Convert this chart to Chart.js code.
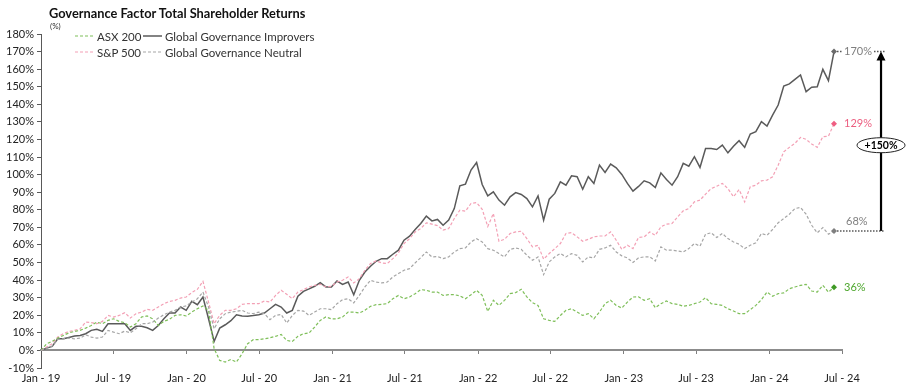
<!DOCTYPE html>
<html>
<head>
<meta charset="utf-8">
<script src="https://cdn.jsdelivr.net/npm/chart.js@4.4.1/dist/chart.umd.min.js"></script>
<style>
  body { margin: 0; background: #fff; font-family: Lato, "Open Sans", sans-serif; }
  #wrap { position: relative; width: 911px; height: 386px; }
  #title { position: absolute; left: 49px; top: 5px; font-weight: bold; font-size: 12.8px; color: #111; }
  #unit { position: absolute; left: 50px; top: 21px; font-size: 8px; color: #333; }
  .lg { position: absolute; font-size: 11.5px; color: #333; display: flex; align-items: center; height: 14px; white-space: nowrap; }
  .lg svg { margin-right: 3px; }
</style>
</head>
<body>
<div id="wrap">
  <canvas id="chart" width="911" height="386"></canvas>
  <div id="title">Governance Factor Total Shareholder Returns</div>
  <div id="unit">(%)</div>
  <div id="legend"></div>
</div>
<script>
// 2週間ごとのデータ (2019/1/1 起点)
const startDate = Date.UTC(2019, 0, 1);
const stepDays = 14;

const improvers = [0, 1.3, 2.3, 6.6, 6.6, 7.4, 8.2, 8.5, 9.5, 11.4,
  12, 10.8, 15.2, 15.2, 15.2, 15.2, 11.4, 13.7, 13.7, 12.9,
  11.4, 14.2, 18, 21.3, 21.3, 24.7, 22.8, 27.9, 26, 30.4,
  18, 5.1, 12.7, 14.6, 16.9, 20.3, 19.6, 19.4, 19.8, 20.3,
  21.3, 23.7, 26.2, 24.7, 21.3, 22.8, 30.8, 33.6, 35, 36.5,
  38.6, 36.1, 36.1, 39.5, 37.6, 38.9, 31.7, 39.9, 44.6, 47.9,
  50.7, 52.2, 52.2, 54.7, 57, 62.7, 65, 68.8, 72.2, 76.4,
  73.7, 74.5, 71.2, 74.1, 80.7, 93.6, 94.6, 102.6, 106.9, 94.4,
  87.9, 90.2, 85.5, 82.6, 87.4, 89.8, 88.7, 86.4, 81.7, 87.9,
  74.1, 86, 89.3, 95.9, 94, 99.3, 98.8, 91.7, 98.8, 95,
  105.4, 101.2, 106, 103.9, 100.1, 95, 90.6, 93.3, 96.5, 95.3,
  92.7, 101, 97.2, 94, 98.8, 106.4, 104.8, 110.2, 104.1, 114.9,
  114.9, 114.3, 116.8, 112.4, 116.2, 119.3, 115.5, 123.1, 124.4, 130.1,
  127.6, 133.9, 139.6, 150.4, 151.6, 154.2, 156.7, 147.2, 149.7, 150,
  159.9, 153.5, 170];

const sp500 = [0, 1.9, 3.8, 7.6, 9.5, 10.8, 11.4, 12.3, 16.1, 15.8,
  15.2, 16.5, 19.9, 19, 19.9, 21.5, 18.4, 20.9, 21.8, 23.4,
  22.8, 24.7, 26.6, 27.9, 28.5, 29.8, 30.4, 32.9, 34.8, 39.3,
  27.5, 15.2, 20, 22.8, 22.8, 23.7, 26.2, 26.6, 26.6, 26.6,
  28.1, 27.5, 31.3, 34.2, 31.9, 29.4, 33.2, 34.6, 36.1, 37,
  37.6, 36.1, 36.5, 38.9, 39.9, 41.8, 38.4, 40.8, 45.6, 49.4,
  50.9, 49.8, 49.4, 52.2, 55.5, 60.8, 63.6, 67.4, 69.3, 72.6,
  71.8, 71, 68.4, 69.3, 75, 79.8, 79.2, 83.6, 84.1, 80.3,
  70.5, 77.9, 62.1, 63.2, 66.5, 67.4, 67.8, 63.6, 58.9, 59.8,
  51.9, 55.1, 57.9, 60.8, 66.5, 67, 64.6, 62.1, 63.2, 64.6,
  65.1, 65.1, 67.4, 62.7, 57.5, 59.8, 57.9, 64.3, 64.6, 67.4,
  65.5, 70.3, 71.8, 72.2, 76, 79.4, 80.7, 84.5, 85.5, 88.9,
  92.1, 93.4, 95, 92.1, 87.4, 91.5, 84.5, 93.1, 94, 96.5,
  96.9, 98.8, 105.4, 113, 115.5, 117.8, 121.2, 120.1, 117.4, 115.5,
  121.6, 121.9, 129];

const neutral = [0, 1.3, 2.5, 6.3, 6.6, 7, 6.6, 7, 8.9, 7.6,
  7, 7.6, 11.4, 10.4, 9.5, 11, 10, 12.3, 15.2, 15.2,
  16.1, 18.4, 20.3, 21.8, 22.8, 24.7, 25.3, 27.5, 29.4, 33.2,
  24.7, 12.3, 18, 20.9, 21.8, 22.2, 22.8, 21.3, 20.9, 21.8,
  20.9, 17.5, 19.9, 20.5, 15.6, 19.9, 22.8, 22.4, 19.9, 21.8,
  23.7, 23.7, 23.2, 26.6, 28.9, 29.4, 27, 31.3, 36.1, 39.9,
  38.9, 38.4, 38.9, 41.8, 43.7, 45.6, 46.5, 49.8, 52.8, 56,
  53.2, 53.4, 52.2, 53.2, 56, 57.9, 58.3, 61.7, 63.6, 61.7,
  57.9, 57, 55.1, 53.2, 57.5, 58.3, 57.5, 54.1, 51.3, 53.2,
  43.1, 50.3, 53.2, 55.1, 53.2, 55.1, 54.1, 50.3, 53.2, 52.6,
  57.5, 58.3, 59.8, 56, 53.8, 52.6, 50, 52.7, 53.2, 53.2,
  50.9, 58.9, 57, 57, 56.6, 56, 57.9, 60.8, 59.3, 66.1,
  66.9, 64.2, 66.5, 63.6, 61.7, 60.4, 57.9, 59.8, 61.2, 66.5,
  65.5, 68.8, 72.6, 75, 77.5, 80.7, 81.3, 77.5, 71.2, 66.9,
  69.9, 66.1, 68];

const asx200 = [0, 3.8, 5.1, 7, 8.5, 10, 10.8, 11.4, 12.7, 14.2,
  16.1, 15.2, 17.1, 18, 16.5, 15.8, 13.3, 15.2, 19, 19.6,
  18, 14.2, 16.5, 17.7, 19.9, 20.3, 19.6, 21.8, 23.7, 25.3,
  22.8, 1, -5.7, -6.6, -5.1, -6.6, -1.9, 3.8, 6.1, 6.1,
  6.6, 7.2, 8, 9.1, 5.7, 5.1, 8, 9.5, 9.9, 13.3,
  17.1, 19, 18, 18, 19, 21.8, 21.8, 21.3, 22.8, 25.1,
  26, 26.2, 26.6, 29.4, 31.3, 29.4, 30.4, 32.3, 34.6, 34.2,
  33.2, 33.2, 31.3, 31.7, 31.7, 31, 29.4, 31.7, 34.2, 31.3,
  22.2, 28.5, 25.6, 28.5, 32.3, 32.9, 34.8, 30.4, 27.2, 25.6,
  18, 17.1, 16.5, 19.9, 22.8, 23.7, 21.8, 19.9, 20.9, 18,
  21.8, 26.6, 28.5, 25.6, 24.1, 27.5, 30.4, 30.5, 28.5, 29.4,
  24.3, 26.6, 28.1, 26.6, 26.2, 25.1, 25.6, 26.6, 27.5, 30,
  26.6, 26.2, 25.6, 23.7, 22.4, 20.9, 20.9, 23.2, 25.6, 28.9,
  33.2, 30.8, 32.3, 32.7, 35.1, 36.1, 37, 37.6, 33.8, 33.2,
  37, 33.2, 36];

const tickLabels = ['Jan - 19', 'Jul - 19', 'Jan - 20', 'Jul - 20', 'Jan - 21', 'Jul - 21',
  'Jan - 22', 'Jul - 22', 'Jan - 23', 'Jul - 23', 'Jan - 24', 'Jul - 24'];
const tickDates = [[2019, 0], [2019, 6], [2020, 0], [2020, 6], [2021, 0], [2021, 6],
  [2022, 0], [2022, 6], [2023, 0], [2023, 6], [2024, 0], [2024, 6]];
const spreadText = '+150%';

const DAY = 86400000;
const tickDays = tickDates.map(d => (Date.UTC(d[0], d[1], 1) - startDate) / DAY);
const toPoints = arr => arr.map((v, i) => ({ x: i * stepDays, y: v }));

const series = [
  { name: 'Global Governance Neutral', data: neutral, color: '#a6a6a6', dash: [3, 2], width: 1.2, labelColor: '#7f7f7f', marker: '#7f7f7f' },
  { name: 'ASX 200', data: asx200, color: '#7fbf5a', dash: [3, 2], width: 1.2, labelColor: '#4ea72e', marker: '#3f9a25' },
  { name: 'S&P 500', data: sp500, color: '#f3a0b5', dash: [3, 2], width: 1.2, labelColor: '#ec5f80', marker: '#ef5e82' },
  { name: 'Global Governance Improvers', data: improvers, color: '#5a5a5a', dash: [], width: 1.5, labelColor: '#7f7f7f', marker: '#6a6a6a' }
];

// 凡例 (2列×2行)
const legendLayout = [
  ['ASX 200', 75, 29], ['Global Governance Improvers', 143, 29],
  ['S&P 500', 75, 45], ['Global Governance Neutral', 143, 45]
];
const legendEl = document.getElementById('legend');
legendLayout.forEach(([name, left, top]) => {
  const s = series.find(z => z.name === name);
  const d = document.createElement('div');
  d.className = 'lg';
  d.style.left = left + 'px';
  d.style.top = top + 'px';
  d.innerHTML = `<svg width="19" height="4"><line x1="0" y1="2" x2="19" y2="2" stroke="${s.color}" stroke-width="${s.width}" stroke-dasharray="${s.dash.join(',') || 'none'}"/></svg>${name}`;
  legendEl.appendChild(d);
});

const lastIdx = improvers.length - 1;

// 右端のラベル・点線・矢印
const endNotes = {
  id: 'endNotes',
  afterDatasetsDraw(chart) {
    const { ctx, scales: { x, y } } = chart;
    const px = x.getPixelForValue(lastIdx * stepDays);
    const arrowX = px + 47;
    const yTop = y.getPixelForValue(improvers[lastIdx]);
    const yBot = y.getPixelForValue(neutral[lastIdx]);
    ctx.save();
    ctx.font = '11px Lato, "Open Sans", sans-serif';
    ctx.textBaseline = 'middle';
    series.forEach(s => {
      const v = s.data[lastIdx];
      const py = y.getPixelForValue(v);
      ctx.fillStyle = s.labelColor;
      if (s.data === neutral) ctx.fillText(v + '%', px + 12, py - 9);
      else ctx.fillText(v + '%', px + 10, py);
    });

    ctx.strokeStyle = '#555';
    ctx.lineWidth = 1.5;
    ctx.setLineDash([1.5, 1.5]);
    ctx.beginPath();
    ctx.moveTo(px + 3, yTop); ctx.lineTo(px + 9, yTop);
    ctx.moveTo(px + 40, yTop); ctx.lineTo(arrowX + 4, yTop);
    ctx.moveTo(px + 3, yBot); ctx.lineTo(arrowX + 4, yBot);
    ctx.stroke();
    ctx.setLineDash([]);

    // 矢印
    ctx.strokeStyle = '#000';
    ctx.fillStyle = '#000';
    ctx.lineWidth = 2.2;
    ctx.beginPath();
    ctx.moveTo(arrowX, yBot);
    ctx.lineTo(arrowX, yTop + 8);
    ctx.stroke();
    ctx.beginPath();
    ctx.moveTo(arrowX, yTop);
    ctx.lineTo(arrowX - 4.5, yTop + 9);
    ctx.lineTo(arrowX + 4.5, yTop + 9);
    ctx.closePath();
    ctx.fill();

    const cy = (yTop + yBot) / 2 + 4;
    ctx.beginPath();
    ctx.ellipse(arrowX, cy, 24, 7.5, 0, 0, Math.PI * 2);
    ctx.fillStyle = '#fff';
    ctx.fill();
    ctx.lineWidth = 1;
    ctx.strokeStyle = '#222';
    ctx.stroke();
    ctx.fillStyle = '#000';
    ctx.font = 'bold 10.5px Lato, "Open Sans", sans-serif';
    ctx.textAlign = 'center';
    ctx.fillText(spreadText, arrowX, cy + 0.5);
    ctx.restore();
  }
};

const setTicks = scale => { scale.ticks = tickDays.map(v => ({ value: v })); };

new Chart(document.getElementById('chart'), {
  type: 'line',
  data: {
    datasets: series.map(s => ({
      label: s.name,
      data: toPoints(s.data),
      xAxisID: 'x',
      yAxisID: 'y',
      borderColor: s.color,
      borderWidth: s.width,
      borderDash: s.dash,
      tension: 0,
      pointStyle: 'rectRot',
      pointRadius: ctx => ctx.dataIndex === lastIdx ? 3 : 0,
      pointBackgroundColor: s.marker,
      pointBorderColor: s.marker,
      pointBorderWidth: 0,
      fill: false
    }))
  },
  options: {
    responsive: false,
    animation: false,
    devicePixelRatio: 1,
    layout: { padding: { top: 34, right: 69, left: 0, bottom: 0 } },
    plugins: { legend: { display: false }, tooltip: { enabled: false } },
    scales: {
      x: {
        type: 'linear',
        min: 0,
        max: tickDays[tickDays.length - 1],
        afterBuildTicks: setTicks,
        afterFit: s => { s.height = 18; },
        grid: { display: false, drawTicks: false },
        border: { display: false },
        ticks: {
          padding: 4,
          maxRotation: 0,
          autoSkip: false,
          color: '#222',
          font: { family: 'Lato, "Open Sans", sans-serif', size: 11 },
          callback: (v, i) => tickLabels[i]
        }
      },
      x0: {
        type: 'linear',
        axis: 'x',
        position: { y: 0 },
        min: 0,
        max: tickDays[tickDays.length - 1],
        afterBuildTicks: setTicks,
        ticks: { display: false },
        grid: { drawOnChartArea: false, drawTicks: true, tickLength: 3, color: '#7f7f7f', lineWidth: 1 },
        border: { color: '#8c8c8c', width: 2 }
      },
      y: {
        min: -10,
        max: 180,
        afterFit: s => { s.width = 41; },
        ticks: {
          stepSize: 10,
          padding: 3,
          color: '#222',
          font: { family: 'Lato, "Open Sans", sans-serif', size: 11 },
          callback: v => v + '%'
        },
        grid: { drawOnChartArea: false, drawTicks: true, tickLength: 4, color: '#595959' },
        border: { color: '#595959', width: 1 }
      }
    }
  },
  plugins: [endNotes]
});
</script>
</body>
</html>
